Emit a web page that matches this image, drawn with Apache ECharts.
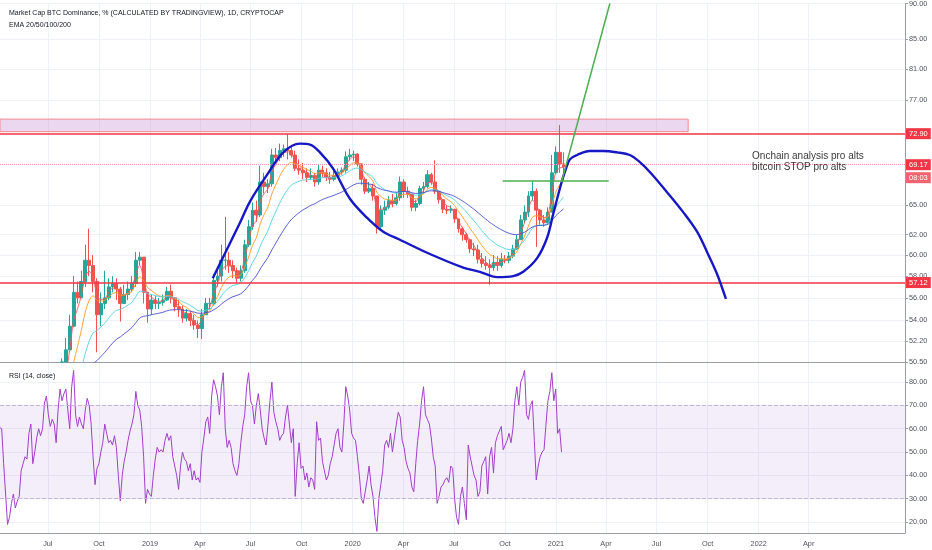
<!DOCTYPE html>
<html><head><meta charset="utf-8">
<script src="https://cdn.jsdelivr.net/npm/echarts@6/dist/echarts.min.js"></script>
<style>html,body{margin:0;padding:0;background:#fff}#c{width:932px;height:550px}</style>
</head><body><div id="c"></div>
<script>
// ---------- data ----------
const firstWeek = '2018-04-02';           // weekly candles, one per week
const firstOpen = 47.0;
const closes = [45.5,43.0,40.5,39.0,38.8,39.5,40.5,41.2,41.0,41.5,
 42.3,43.0,43.6,44.2,44.8,46.2,49.5,51.5,53.5,56.5,
 56.0,57.5,59.5,59.0,57.5,54.5,55.5,56.0,57.0,57.3,
 56.8,55.5,56.3,56.8,57.3,59.5,59.8,56.5,55.0,55.8,
 55.5,55.6,55.8,56.6,56.0,55.2,55.0,54.2,54.6,54.0,
 53.6,53.3,54.5,55.5,55.5,57.6,58.0,59.5,59.5,59.0,
 58.5,57.8,58.5,61.0,62.8,64.5,64.0,67.5,67.0,67.3,
 70.5,70.2,71.0,71.2,71.0,70.5,69.0,68.8,68.5,68.0,
 68.2,67.5,68.8,68.5,68.0,67.8,68.2,68.6,68.8,70.3,
 70.5,70.6,69.5,67.8,66.5,66.8,66.0,62.8,64.5,64.8,
 65.5,65.2,65.8,67.5,66.5,66.2,64.8,65.2,66.8,67.0,
 68.3,67.5,66.5,65.6,64.6,64.5,64.6,63.6,62.6,62.0,
 61.5,60.6,60.5,59.6,59.2,59.0,58.8,59.3,59.0,59.6,
 59.5,59.9,60.6,61.5,63.5,64.3,66.0,66.5,64.5,63.5,
 63.2,64.3,68.5,70.8,69.5,69.17];
const highs = [47.5,45.5,43.0,40.5,39.8,40.2,41.0,41.8,41.8,42.0,
 42.8,43.6,44.2,44.8,45.5,47.0,50.8,52.5,54.5,58.0,
 57.5,58.5,61.0,62.6,60.0,57.8,56.5,58.5,57.8,58.0,
 57.8,57.0,57.2,57.5,58.0,60.3,60.3,59.8,56.5,56.3,
 56.2,56.0,56.3,57.0,57.2,56.0,55.8,55.3,55.0,54.8,
 54.5,54.0,55.0,56.0,56.0,58.2,58.8,61.0,63.8,60.3,
 59.5,58.8,59.0,61.5,63.5,65.3,65.5,69.3,68.5,67.8,
 71.2,71.3,71.8,71.7,72.9,71.5,71.0,70.0,69.6,69.0,
 69.0,68.5,69.5,69.3,69.0,68.6,68.7,69.0,69.1,70.9,
 71.2,71.0,70.7,69.5,68.0,67.5,67.3,66.0,65.0,65.5,
 66.0,66.2,66.4,68.1,67.8,67.0,66.2,65.6,67.1,67.5,
 68.8,68.5,69.9,66.5,65.3,65.0,65.0,64.6,63.5,62.8,
 62.2,61.6,61.2,61.0,60.2,59.9,59.6,60.0,59.9,60.2,
 60.0,60.3,61.0,62.0,64.0,65.0,66.5,67.6,66.8,64.6,
 64.0,64.8,70.5,71.5,74.0,70.8];
const lows = [43.0,42.0,38.5,37.5,37.8,38.5,39.5,40.2,40.5,40.8,
 41.3,42.2,42.8,43.5,44.0,44.5,46.0,49.5,51.5,53.4,
 55.5,56.0,57.0,58.0,56.5,51.3,53.5,55.0,55.8,56.5,
 55.8,53.9,55.5,55.8,56.5,57.0,59.0,55.5,53.8,54.5,
 55.0,55.0,55.3,55.7,55.5,54.8,54.3,53.8,53.9,53.5,
 53.2,52.5,52.4,54.5,55.0,55.3,57.0,57.5,58.6,58.3,
 57.8,57.4,57.5,58.3,60.8,62.5,63.3,63.8,66.3,66.3,
 67.0,69.5,69.8,70.3,70.0,70.2,68.7,68.3,67.8,67.5,
 67.7,67.0,67.2,68.0,67.6,67.3,67.6,68.0,68.3,68.5,
 69.9,69.8,69.2,67.2,66.2,66.3,65.5,62.1,62.5,64.0,
 64.6,64.8,65.0,65.5,65.8,65.8,64.4,64.4,65.0,66.2,
 66.8,67.2,66.2,65.2,64.2,64.1,64.2,63.2,62.2,61.4,
 61.2,60.2,59.9,59.2,58.8,58.6,57.2,58.5,58.5,58.8,
 59.2,59.2,59.7,60.5,61.5,63.2,63.8,65.5,60.8,63.0,
 62.8,63.0,64.5,68.4,68.5,67.8];

const emaPeriods = [20, 50, 100, 200];
const emaSeeds   = [45.5, 47.0, 49.0, 50.8];   // values at the left edge
const emaColors  = ['#f05a5a', '#ff9a1f', '#52d3e0', '#4a4ed0'];

const rsiStart = '2018-04-02';               // one reading every 3.5 days
const rsiValues = [61,61,60,45,32,19,22,28,32,26,
 29,31,42,45,48,47,58,62,45,50,
 56,60,57,60,71,74,66,61,64,62,
 54,68,77,72,75,77,68,60,78,85,
 66,61,65,62,60,68,73,70,62,48,
 36,43,45,50,54,62,58,54,55,53,
 57,52,40,29,40,46,50,55,59,62,
 66,76,70,68,61,48,28,34,32,31,
 40,47,52,50,51,50,55,58,55,57,
 48,44,40,34,44,50,47,46,42,45,
 38,42,38,39,37,50,56,63,65,58,
 74,81,78,74,66,78,84,60,52,55,
 52,45,42,40,45,54,61,66,78,84,
 72,70,62,70,75,68,60,56,53,62,
 72,80,67,63,60,55,57,58,
 65,70,62,54,60,31,45,54,43,44,
 38,41,35,39,38,34,63,55,56,46,
 42,38,40,45,48,53,58,60,52,50,
 62,78,74,68,58,56,55,48,40,30,
 28,33,38,44,36,31,22,16,30,36,
 42,53,55,52,58,50,56,62,67,65,
 55,52,46,43,41,35,33,45,55,62,
 72,78,66,64,62,56,48,44,28,31,
 35,36,38,39,37,44,43,30,22,19,
 31,35,28,21,53,48,44,40,38,31,
 33,44,46,48,32,48,52,41,54,57,
 59,61,51,53,55,58,54,60,72,78,
 70,80,82,85,66,64,70,72,55,38,
 44,48,50,51,62,72,76,84,72,77,
 58,60,50];

const priceTicks = [50.5, 52.2, 54, 56, 58, 60, 62, 65, 77, 81, 85, 90];
const priceMin = 50.5, priceMax = 90;
const rsiTicks = [20, 30, 40, 50, 60, 70, 80];
const quarterTicks = ['2018-07-01','2018-10-01','2019-01-01','2019-04-01','2019-07-01','2019-10-01',
 '2020-01-01','2020-04-01','2020-07-01','2020-10-01','2021-01-01','2021-04-01','2021-07-01',
 '2021-10-01','2022-01-01','2022-04-01'];
const monthNames = ['Jan','Feb','Mar','Apr','May','Jun','Jul','Aug','Sep','Oct','Nov','Dec'];

const levelLines = [72.90, 57.12];
const lastPrice = 69.17, countdown = '08:03';
const zoneLow = 73.2, zoneHigh = 74.7, zoneEnd = '2021-08-27';

const cupDates = ['2019-04-24','2019-06-12','2019-06-30','2019-07-31','2019-08-29','2019-09-28','2019-10-16',
 '2019-11-03','2019-11-27','2019-12-27','2020-01-27','2020-02-25','2020-03-26','2020-05-19','2020-07-18',
 '2020-08-17','2020-09-17','2020-10-16','2020-11-03','2020-11-28','2020-12-16','2020-12-27','2021-01-08',
 '2021-01-17','2021-01-26','2021-02-08','2021-03-03','2021-03-27','2021-04-21','2021-05-14','2021-06-01',
 '2021-06-19','2021-07-20','2021-08-18','2021-09-12','2021-09-30','2021-10-18','2021-11-03'];
const cupPrices = [57.8,63.2,65.4,68.3,70.8,71.8,71.7,
 70.8,68.95,65.7,63.7,62.3,61.5,60.1,58.8,
 58.4,57.9,58.0,58.4,59.7,61.7,64.1,66.8,
 68.6,70.0,70.5,70.96,70.96,70.8,70.5,69.7,
 68.6,66.4,64.3,62.3,60.3,58.2,55.9];
const trendDates = ['2021-01-11','2021-04-08'], trendPrices = [67.5, 90.0];
const neckDates = ['2020-09-27','2021-04-06'], neckPrices = [67.6, 67.6];
const noteDate = '2021-12-20', notePrice = 69.75;
const noteText = 'Onchain analysis pro alts\nbitcoin STOP pro alts';

// ---------- build ----------
const DAY = 86400000;
const ts = s => Date.parse(s);
const L = Math.log;
const tMin = ts('2019-01-01') - 270.08 * DAY;
const tMax = tMin + 1629.5 * DAY;
const FONT = '"Liberation Sans",Arial,sans-serif';
const weekTs = i => ts(firstWeek) + (i * 7 + 3.5) * DAY;

// candles; parts below the pane's lower bound are cut off at that bound (visual clipping)
const cut = v => L(Math.max(v, priceMin));
const candles = [];
closes.forEach((c, i) => {
  if (highs[i] < priceMin) return;
  const o = i === 0 ? firstOpen : closes[i - 1];
  candles.push([weekTs(i), cut(o), cut(c), cut(lows[i]), cut(highs[i])]);
});
function ema(period, seed) {
  const a = 1 - Math.pow(1 - 2 / (period + 1), 7);
  let e = seed;
  return closes.map((c, i) => { e = e + a * (c - e); return [weekTs(i), L(e)]; });
}
const rsiData = rsiValues.map((v, k) => [ts(rsiStart) + k * 3.5 * DAY, v]);

const fmtDate = v => { const d = new Date(v); const m = d.getUTCMonth(); return m === 0 ? String(d.getUTCFullYear()) : monthNames[m]; };
const axisGrey = '#9a9da6', gridCol = '#eef1f6', txtCol = '#50535e';

const xBase = (gi, showLabel) => ({
  type: 'value', gridIndex: gi, min: tMin, max: tMax,
  axisLine: { show: true, lineStyle: { color: axisGrey, width: 1 } },
  axisTick: { show: false, customValues: quarterTicks.map(ts) },
  axisLabel: { show: showLabel, customValues: quarterTicks.map(ts), formatter: fmtDate,
    fontSize: 7.3, color: txtCol, fontFamily: FONT, margin: 7 },
  splitLine: { show: true, lineStyle: { color: gridCol, width: 1 } }
});

const lvlLabel = txt => ({ show: true, position: 'end', distance: 1, formatter: txt,
  backgroundColor: '#f23645', color: '#fff', fontSize: 7.5, fontFamily: FONT, padding: [2, 3, 1, 3] });

const option = {
  animation: false,
  backgroundColor: '#ffffff',
  title: [
    { text: 'Market Cap BTC Dominance, % (CALCULATED BY TRADINGVIEW), 1D, CRYPTOCAP', left: 4, top: 5,
      textStyle: { fontSize: 7, fontWeight: 'normal', color: '#131722', fontFamily: FONT },
      subtext: 'EMA 20/50/100/200', itemGap: 5,
      subtextStyle: { fontSize: 7, color: '#131722', fontFamily: FONT } },
    { text: 'RSI (14, close)', left: 4, top: 368,
      textStyle: { fontSize: 7, fontWeight: 'normal', color: '#131722', fontFamily: FONT } }
  ],
  grid: [
    { left: 0, right: 27, top: 0, height: 362 },
    { left: 0, right: 27, top: 362, height: 171 }
  ],
  xAxis: [xBase(0, false), xBase(1, true)],
  yAxis: [
    { type: 'value', gridIndex: 0, position: 'right', min: L(priceMin), max: L(priceMax),
      axisLine: { show: true, lineStyle: { color: axisGrey } },
      axisTick: { show: true, length: 3, lineStyle: { color: axisGrey }, customValues: priceTicks.map(L) },
      axisLabel: { customValues: priceTicks.map(L), formatter: v => Math.exp(v).toFixed(2),
        fontSize: 7.3, color: txtCol, fontFamily: FONT, margin: 4 },
      splitLine: { show: true, lineStyle: { color: gridCol } } },
    { type: 'value', gridIndex: 1, position: 'right', min: 15.3, max: 88.6,
      axisLine: { show: true, lineStyle: { color: axisGrey } },
      axisTick: { show: true, length: 3, lineStyle: { color: axisGrey }, customValues: rsiTicks },
      axisLabel: { customValues: rsiTicks, formatter: v => v.toFixed(2),
        fontSize: 7.3, color: txtCol, fontFamily: FONT, margin: 4 },
      splitLine: { show: true, lineStyle: { color: gridCol } } }
  ],
  series: [
    { type: 'candlestick', xAxisIndex: 0, yAxisIndex: 0, data: candles, barWidth: 3.4, clip: true, z: 2,
      itemStyle: { color: '#26a69a', color0: '#ef5350', borderColor: '#26a69a', borderColor0: '#ef5350', borderWidth: 1 },
      markArea: { silent: true, data: [[
        { xAxis: tMin, yAxis: L(zoneLow) }, { xAxis: ts(zoneEnd), yAxis: L(zoneHigh) }]],
        itemStyle: { color: 'rgba(200,140,215,0.35)', borderColor: '#f28b8b', borderWidth: 1 } },
      markLine: { silent: true, symbol: 'none', animation: false, data: [
        { yAxis: L(levelLines[0]), lineStyle: { color: '#f23645', width: 1.6, type: 'solid' }, label: lvlLabel(levelLines[0].toFixed(2)) },
        { yAxis: L(levelLines[1]), lineStyle: { color: '#f23645', width: 1.6, type: 'solid' }, label: lvlLabel(levelLines[1].toFixed(2)) },
        { yAxis: L(lastPrice), lineStyle: { color: '#f59aa2', width: 1, type: 'dotted' },
          label: { show: true, position: 'end', distance: 1, fontSize: 7.5, fontFamily: FONT,
            formatter: '{e|}\n{a|' + lastPrice.toFixed(2) + '}\n{b|' + countdown + '}',
            rich: {
              e: { height: 11, lineHeight: 13 },
              a: { backgroundColor: '#f23645', color: '#fff', padding: [2, 3, 1, 3], fontSize: 7.5, lineHeight: 13, fontFamily: FONT },
              b: { backgroundColor: '#f2636f', color: '#fff', padding: [2, 3, 1, 3], fontSize: 7.5, lineHeight: 13, fontFamily: FONT }
            } } }
      ] } },
    ...emaPeriods.map((p, j) => ({
      type: 'line', xAxisIndex: 0, yAxisIndex: 0, data: ema(p, emaSeeds[j]), showSymbol: false, smooth: 0.3, z: 3,
      lineStyle: { color: emaColors[j], width: 1, opacity: 0.9 }, silent: true })),
    { type: 'line', xAxisIndex: 0, yAxisIndex: 0, z: 5, showSymbol: false, smooth: 0.35, silent: true,
      data: cupDates.map((d, i) => [ts(d), L(cupPrices[i])]),
      lineStyle: { color: '#1717c4', width: 2.4 } },
    { type: 'line', xAxisIndex: 0, yAxisIndex: 0, z: 5, showSymbol: false, silent: true,
      data: trendDates.map((d, i) => [ts(d), L(trendPrices[i])]),
      lineStyle: { color: '#4caf50', width: 1.5 } },
    { type: 'line', xAxisIndex: 0, yAxisIndex: 0, z: 5, showSymbol: false, silent: true,
      data: neckDates.map((d, i) => [ts(d), L(neckPrices[i])]),
      lineStyle: { color: '#4caf50', width: 1.5 } },
    { type: 'scatter', xAxisIndex: 0, yAxisIndex: 0, z: 6, symbolSize: 0, silent: true,
      data: [[ts(noteDate), L(notePrice)]],
      label: { show: true, position: 'right', distance: 0, formatter: noteText, align: 'left',
        fontSize: 10, lineHeight: 10.5, color: '#000000', fontFamily: FONT } },
    { type: 'line', xAxisIndex: 1, yAxisIndex: 1, data: rsiData, showSymbol: false, z: 3, silent: true,
      lineStyle: { color: '#a23fc9', width: 1 },
      markArea: { silent: true, data: [[{ xAxis: tMin, yAxis: 30 }, { xAxis: tMax, yAxis: 70 }]],
        itemStyle: { color: 'rgba(150,90,220,0.10)' } },
      markLine: { silent: true, symbol: 'none', label: { show: false },
        lineStyle: { color: '#c6b4dd', type: 'dashed', width: 1 },
        data: [{ yAxis: 70 }, { yAxis: 30 }] } }
  ]
};
const chart = echarts.init(document.getElementById('c'), null, { renderer: 'canvas' });
chart.setOption(option);
</script></body></html>
